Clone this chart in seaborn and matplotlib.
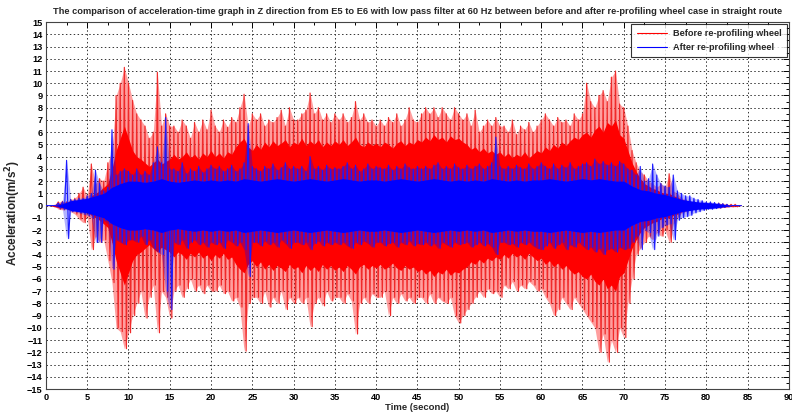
import numpy as np
import pandas as pd
import matplotlib
matplotlib.use("Agg")
import matplotlib.pyplot as plt
from matplotlib.lines import Line2D
import seaborn as sns
from matplotlib.ticker import MultipleLocator

# Time base (s): readings every 0.5 s; blue dense band every 1 s
t_peak = np.arange(0.0, 84.01, 0.5)
t_core = np.arange(0.0, 84.01, 1.0)

# Before re-profiling wheel: positive / negative peaks (m/s^2)
red_up = [0,
          0, 0, 0.3, 0.35, 0.3, 0.5, 0.6, 1.0, 1.5, 0.8,
          3.4, 1.8, 2.2, 2.0, 3.5, 4.5, 9.0, 10.0, 11.3, 10.0,
          8.6, 7.5, 7.0, 6.5, 5.5, 6.0, 10.9, 6.5, 7.5, 6.5,
          6.5, 6.0, 7.0, 6.5, 5.5, 6.8, 6.0, 7.0, 6.2, 7.8,
          6.5, 6.0, 7.0, 6.4, 7.2, 6.8, 8.0, 9.1, 6.5, 7.5,
          7.0, 7.5, 6.5, 7.0, 6.8, 7.2, 7.8, 6.5, 8.0, 7.0,
          7.0, 7.5, 7.8, 9.2, 7.5, 8.0, 7.0, 7.5, 6.8, 7.5,
          7.0, 7.5, 6.8, 7.2, 8.5, 7.0, 7.5, 6.8, 7.0, 6.5,
          7.0, 6.5, 7.2, 6.8, 7.5, 6.5, 7.0, 8.0, 7.0, 6.8,
          7.5, 8.0, 7.5, 8.0, 7.2, 8.0, 7.5, 7.0, 8.0, 7.5,
          7.0, 7.5, 6.5, 7.8, 6.0, 6.5, 7.0, 6.5, 7.2, 6.5,
          6.5, 6.0, 7.0, 5.8, 6.5, 6.2, 6.8, 6.0, 6.5, 7.0,
          7.5, 7.0, 6.5, 7.2, 6.8, 7.0, 6.5, 7.5, 7.0, 7.5,
          10.0, 8.5, 8.0, 9.0, 9.4, 8.5, 10.5, 11.0, 8.3, 8.0,
          6.5, 4.5, 3.5, 2.8, 2.5, 2.0, 1.8, 1.5, 1.8, 1.5,
          2.6, 1.2, 1.0, 0.6, 0.5, 0.3, 0.3, 0.2, 0.2, 0.2,
          0.2, 0.15, 0.2, 0.15, 0.1, 0.1, 0.1, 0.0]
red_dn = [0,
          0, 0, -0.3, -0.35, -0.3, -0.5, -0.7, -1.1, -1.4, -0.9,
          -3.6, -2.5, -3.0, -2.8, -4.5, -6.3, -10.0, -10.3, -11.7, -10.4,
          -9.0, -8.0, -7.0, -9.2, -7.5, -6.5, -10.4, -7.0, -7.5, -9.2,
          -7.0, -6.5, -7.5, -6.8, -6.0, -7.0, -6.5, -7.2, -6.5, -7.0,
          -7.0, -6.5, -7.2, -7.0, -7.8, -7.5, -8.3, -11.9, -8.0, -7.5,
          -7.5, -8.0, -7.0, -8.3, -7.5, -8.0, -7.0, -8.5, -7.5, -8.0,
          -7.5, -8.0, -7.5, -9.9, -8.0, -7.5, -8.2, -7.0, -7.8, -7.5,
          -7.5, -8.0, -7.2, -7.8, -10.5, -8.0, -7.5, -8.0, -7.2, -7.5,
          -7.5, -7.0, -9.0, -7.5, -8.0, -7.2, -7.8, -7.5, -8.0, -7.5,
          -7.5, -8.0, -7.2, -8.0, -7.5, -7.8, -8.0, -7.5, -9.0, -9.6,
          -9.0, -8.5, -8.0, -7.5, -7.0, -7.5, -6.8, -7.2, -7.0, -7.5,
          -6.5, -6.8, -6.2, -7.0, -6.5, -6.8, -6.2, -6.5, -7.0, -6.8,
          -7.5, -8.0, -9.0, -8.5, -7.5, -8.0, -8.5, -7.5, -8.0, -8.5,
          -9.0, -9.5, -10.0, -12.0, -10.5, -12.8, -11.0, -12.0, -10.0, -10.8,
          -8.0, -6.0, -4.0, -3.5, -3.0, -2.5, -2.8, -2.2, -2.5, -2.0,
          -3.0, -1.5, -1.0, -0.6, -0.5, -0.3, -0.3, -0.2, -0.2, -0.2,
          -0.2, -0.15, -0.2, -0.15, -0.1, -0.1, -0.1, 0.0]
# Half-width of the dense band of the "before" signal (m/s^2)
red_core = [0,
            0.0, 0.1, 0.15, 0.2, 0.2, 0.3, 0.3, 0.4, 0.5, 0.5,
            0.8, 1.0, 1.2, 1.5, 1.8, 3.0, 4.5, 5.5, 6.5, 5.5,
            4.5, 4.0, 3.8, 3.5, 3.2, 3.5, 3.8, 3.4, 3.6, 3.8,
            4.2, 3.8, 4.0, 4.4, 3.9, 4.2, 3.8, 4.3, 4.0, 4.5,
            4.0, 4.3, 3.9, 4.4, 4.2, 4.8, 5.2, 5.5, 4.8, 4.5,
            5.0, 4.6, 5.2, 4.8, 5.3, 4.9, 5.1, 5.4, 4.8, 5.2,
            5.0, 5.5, 4.9, 5.3, 5.0, 5.4, 4.8, 5.2, 4.9, 5.3,
            5.0, 5.4, 4.9, 5.2, 5.6, 5.0, 4.8, 5.2, 4.9, 5.1,
            4.8, 5.2, 5.0, 4.7, 5.1, 5.3, 4.9, 5.2, 5.0, 5.4,
            5.2, 5.6, 5.3, 5.8, 5.4, 5.6, 5.2, 5.7, 5.4, 5.5,
            5.2, 5.0, 4.6, 4.8, 4.4, 4.7, 4.3, 4.5, 4.2, 4.4,
            4.0, 4.3, 3.9, 4.2, 4.0, 4.4, 3.9, 4.2, 4.5, 4.3,
            4.8, 4.5, 5.0, 4.7, 5.2, 4.9, 5.3, 5.6, 5.4, 5.8,
            6.0, 5.6, 6.2, 6.5, 6.0, 6.8, 6.5, 7.0, 5.8, 5.5,
            4.5, 3.5, 2.8, 2.2, 1.8, 1.6, 1.4, 1.3, 1.1, 1.0,
            1.0, 0.8, 0.7, 0.5, 0.4, 0.3, 0.25, 0.2, 0.2, 0.15,
            0.15, 0.12, 0.12, 0.1, 0.1, 0.05, 0.05, 0.0]

# After re-profiling wheel: positive / negative peaks (m/s^2)
blue_up = [0,
           0, 0, 0.2, 0.3, 3.7, 0.5, 0.5, 0.6, 0.6, 0.8,
           1.0, 2.9, 1.8, 1.2, 1.5, 6.2, 2.5, 2.8, 3.0, 2.8,
           2.5, 3.0, 2.5, 2.8, 2.5, 3.5, 4.8, 3.5, 7.2, 3.0,
           3.0, 2.8, 3.5, 2.6, 3.0, 2.8, 3.2, 2.7, 3.0, 3.3,
           3.0, 3.2, 2.8, 3.0, 3.3, 2.8, 3.0, 3.5, 6.7, 3.2,
           3.0, 2.8, 3.2, 3.0, 3.4, 2.9, 3.1, 3.5, 3.0, 3.2,
           3.0, 3.2, 2.8, 4.0, 3.0, 3.2, 2.9, 3.3, 3.0, 3.1,
           3.0, 3.2, 3.5, 3.0, 3.3, 2.8, 3.0, 3.4, 3.0, 3.2,
           3.1, 3.0, 3.3, 2.9, 3.2, 3.0, 3.4, 3.1, 3.0, 3.2,
           3.0, 3.2, 3.0, 3.3, 3.5, 3.0, 3.2, 3.0, 3.4, 3.1,
           3.0, 3.3, 3.0, 3.2, 3.4, 3.0, 3.2, 3.5, 5.6, 3.2,
           3.0, 3.2, 3.0, 3.3, 3.1, 3.0, 3.4, 3.0, 3.2, 3.5,
           3.2, 3.0, 3.4, 3.0, 3.3, 3.1, 3.5, 3.0, 3.2, 3.4,
           3.5, 3.2, 3.8, 3.4, 3.6, 3.3, 3.5, 3.2, 3.6, 3.4,
           3.0, 2.9, 2.5, 3.2, 2.0, 2.2, 3.4, 2.5, 1.8, 1.6,
           1.5, 2.5, 1.2, 1.0, 0.8, 0.8, 0.6, 0.5, 0.4, 0.3,
           0.3, 0.25, 0.2, 0.15, 0.1, 0.0, 0.0, 0.0]
blue_dn = [0,
           0, 0, -0.2, -0.3, -2.7, -0.5, -0.5, -0.6, -0.7, -0.8,
           -1.0, -3.0, -3.0, -1.2, -1.5, -5.2, -2.8, -3.0, -3.2, -2.8,
           -2.8, -3.0, -2.5, -3.2, -2.8, -3.5, -3.8, -4.0, -7.0, -8.5,
           -3.0, -3.2, -2.8, -3.5, -3.0, -2.8, -3.2, -3.0, -3.4, -3.0,
           -3.2, -3.0, -3.5, -2.8, -3.0, -3.3, -3.0, -3.6, -5.8, -3.0,
           -3.0, -3.3, -2.9, -3.2, -3.0, -3.4, -2.8, -3.1, -3.5, -3.0,
           -3.0, -3.2, -3.0, -3.6, -3.1, -2.9, -3.3, -3.0, -3.2, -3.0,
           -3.2, -3.0, -3.3, -3.5, -3.0, -3.2, -2.9, -3.1, -3.4, -3.0,
           -3.0, -3.3, -3.1, -3.0, -3.4, -3.0, -3.2, -2.9, -3.3, -3.1,
           -3.2, -3.0, -3.3, -3.1, -3.5, -3.0, -3.2, -3.4, -3.0, -3.2,
           -3.1, -3.0, -3.4, -3.2, -3.0, -3.3, -3.1, -3.4, -4.0, -3.0,
           -3.0, -3.2, -3.1, -3.4, -3.0, -3.2, -3.0, -3.3, -3.5, -3.6,
           -3.3, -3.0, -3.5, -3.2, -3.0, -3.6, -3.2, -3.4, -3.0, -3.3,
           -3.6, -3.4, -3.8, -3.5, -4.0, -3.6, -3.5, -3.8, -3.4, -3.6,
           -3.5, -3.0, -2.5, -3.6, -2.0, -2.2, -3.6, -2.5, -1.8, -1.6,
           -1.5, -2.8, -1.2, -1.0, -0.9, -0.8, -0.6, -0.5, -0.4, -0.3,
           -0.3, -0.25, -0.2, -0.15, -0.1, 0.0, 0.0, 0.0]
# Half-width of the dense band of the "after" signal (m/s^2)
blue_core = [0, 0, 0.15, 0.4, 0.5, 0.6, 0.8, 1.0, 1.5, 1.8,
             2.0, 2.0, 1.9, 2.0, 2.2, 2.0, 1.9, 2.0, 2.1, 2.0,
             2.1, 2.0, 2.1, 2.0, 2.2, 2.1, 2.0, 2.1, 2.2, 2.1,
             2.0, 2.1, 2.2, 2.1, 2.0, 2.1, 2.2, 2.1, 2.0, 2.1,
             2.1, 2.0, 2.1, 2.2, 2.1, 2.0, 2.1, 2.2, 2.1, 2.0,
             2.1, 2.0, 2.1, 2.0, 2.2, 2.1, 2.0, 2.1, 2.0, 2.1,
             2.1, 2.2, 2.1, 2.0, 2.1, 2.2, 2.1, 2.2, 2.1, 2.0,
             2.0, 1.6, 1.3, 1.2, 1.0, 0.9, 0.7, 0.5, 0.4, 0.3,
             0.25, 0.2, 0.1, 0.0, 0.0]

series_labels = ["Before re-profiling wheel", "After re-profiling wheel"]
x_ticks = list(range(0, 91, 5))
y_ticks = list(range(-15, 16, 1))

title = ("The comparison of acceleration-time graph in Z direction from E5 to E6 "
         "with low pass filter at 60 Hz between before and after re-profiling "
         "wheel case in straight route")


def trace(up, dn):
    """Alternate positive and negative peaks half a step apart."""
    x = np.column_stack([t_peak, t_peak + 0.25]).ravel()
    y = np.column_stack([up, dn]).ravel()
    return pd.DataFrame({"Time": x, "Acc": y})


sns.set_style("white")
plt.rcParams["font.family"] = ["Liberation Sans", "DejaVu Sans"]
plt.rcParams["font.weight"] = "bold"

fig = plt.figure(figsize=(7.92, 4.17), dpi=100)
ax = fig.add_axes([0.058, 0.067, 0.938, 0.880])

# Before re-profiling (red): haze of the peak range, thin peaks, dense band
ax.fill_between(t_peak, red_dn, red_up, color="#ff0000", alpha=0.38, lw=0, zorder=2.5)
sns.lineplot(data=trace(red_up, red_dn), x="Time", y="Acc", ax=ax, color="#f02a2a",
             lw=0.85, sort=False, estimator=None, zorder=3)
rc = np.asarray(red_core)
ax.fill_between(t_peak, -rc, rc, color="#ff0000", lw=0, zorder=3.5)

# After re-profiling (blue)
ax.fill_between(t_peak, blue_dn, blue_up, color="#0000ff", alpha=0.3, lw=0, zorder=3.8)
sns.lineplot(data=trace(blue_up, blue_dn), x="Time", y="Acc", ax=ax, color="#1a1aff",
             lw=0.8, sort=False, estimator=None, zorder=4)
bc = np.asarray(blue_core)
ax.fill_between(t_core, -bc, bc, color="#0000ff", lw=0, zorder=4.5)

ax.set_xlim(0, 90)
ax.set_ylim(-15, 15)
ax.set_xticks(x_ticks)
ax.set_yticks(y_ticks)
ax.xaxis.set_minor_locator(MultipleLocator(2.5))
ax.yaxis.set_minor_locator(MultipleLocator(0.5))
ax.tick_params(which="both", direction="in", top=True, right=True,
               labelsize=6.6, colors="black", width=0.7, pad=2.5)
ax.tick_params(which="major", length=4)
ax.tick_params(which="minor", length=2.5)
for lab in ax.get_xticklabels() + ax.get_yticklabels():
    lab.set_fontweight("bold")

ax.grid(True, which="major", linestyle=(0, (1.5, 2.5)), color="#333333", lw=0.7, zorder=0)
ax.set_axisbelow(True)
for sp in ax.spines.values():
    sp.set_color("#444444")
    sp.set_linewidth(0.8)

ax.set_xlabel("Time (second)", fontsize=6.8, fontweight="bold", labelpad=1)
ax.set_ylabel("Acceleration(m/s$^{\\mathbf{2}}$)", fontsize=8.5, fontweight="bold")
ax.yaxis.set_label_coords(-0.031, 0.48)
ax.set_title(title, fontsize=6.7, fontweight="bold", pad=6)

handles = [Line2D([], [], color="#ff0000", lw=0.8), Line2D([], [], color="#0000ff", lw=0.8)]
leg = ax.legend(handles, series_labels, loc="upper right", fontsize=6.6, frameon=True,
                fancybox=False, borderaxespad=0.2, handlelength=3.3, handletextpad=0.7,
                borderpad=0.55, labelspacing=0.55)
leg.get_frame().set_edgecolor("black")
leg.get_frame().set_linewidth(0.8)
for txt in leg.get_texts():
    txt.set_fontweight("bold")
leg.set_zorder(10)

fig.savefig("out.png", dpi=100)
